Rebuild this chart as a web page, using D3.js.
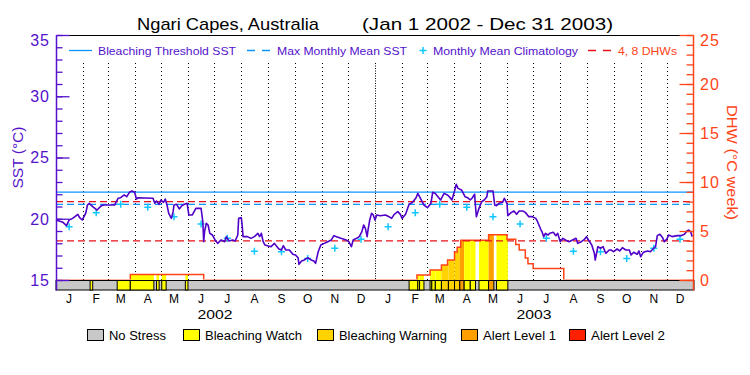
<!DOCTYPE html>
<html>
<head>
<meta charset="utf-8">
<script src="https://cdn.jsdelivr.net/npm/d3@7"></script>
<style>
  body { margin: 0; background: #fff; }
  svg { display: block; font-family: "Liberation Sans", Arial, sans-serif; }
</style>
</head>
<body>
<script>
// values
var months = ["J", "F", "M", "A", "M", "J", "J", "A", "S", "O", "N", "D"];
var years = ["2002", "2003"];
var sstTicks = [15, 20, 25, 30, 35];
var dhwTicks = [0, 5, 10, 15, 20, 25];

// monthly mean climatology (same for both years)
var climatology = [19.35, 20.5, 21.18, 20.93, 20.17, 19.57, 18.4, 17.35, 17.3, 16.75, 17.6, 18.32];
var mmmSST = 21.18;
var thresholdSST = 22.18;
var dhwRefs = [4, 8];

// SST series, days since Jan 1 2002
var sstDay = [0, 8, 12, 15, 19, 25, 27, 30, 34, 36, 38, 42, 47, 52, 55, 67, 71, 74, 78, 81, 84, 87, 90, 92, 94, 111, 113, 115, 118, 120,
  123, 125, 127, 129, 132, 134, 135, 138, 141, 144, 147, 150, 152, 156, 160, 166, 168, 169, 170, 172, 174, 176, 179, 182, 185, 189, 193, 195, 198, 202,
  205, 208, 209, 212, 213, 214, 219, 223, 227, 231, 233, 235, 237, 239, 242, 246, 250, 252, 255, 258, 260, 263, 267, 271, 274, 277, 278, 281, 284, 288,
  292, 295, 297, 300, 303, 307, 311, 315, 318, 321, 326, 332, 335, 338, 340, 344, 347, 350, 352, 354, 356, 357, 359, 361, 363,
  365, 367, 371, 377, 381, 384, 387, 391, 394, 396, 400, 404, 408, 412, 414, 417, 421, 425, 429, 431, 434, 437, 440, 444, 448, 451, 453, 456, 458, 460,
  464, 468, 471, 474, 476, 479, 480, 481, 484, 487, 490, 493, 494, 500, 502, 504, 507, 511, 513, 516, 517, 521, 524, 527, 530, 534, 537, 541, 545, 549,
  551, 555, 556, 558, 560, 563, 565, 569, 572, 574, 577, 580, 583, 587, 591, 595, 597, 601, 604, 607, 610, 613, 616, 617, 620, 623, 626, 629, 633, 635,
  638, 642, 645, 648, 652, 656, 658, 661, 665, 667, 669, 672, 677, 680, 683, 686, 688, 691, 694, 696, 699, 701, 705, 711, 715, 719, 722, 724, 726, 728];
var sstVal = [19.90, 19.71, 19.44, 19.90, 20.03, 20.36, 20.09, 19.90, 20.44, 21.12, 21.26, 20.99, 20.71, 21.07, 21.12, 21.12, 21.67, 21.72, 21.94, 21.80, 22.16, 22.27, 22.16, 21.61, 21.72, 21.67, 21.26, 21.45, 21.18, 21.53,
  21.34, 21.61, 21.12, 20.44, 20.03, 20.58, 21.12, 21.18, 20.80, 21.07, 21.18, 21.26, 20.31, 20.31, 20.85, 20.85, 19.76, 18.13, 18.95, 19.63, 19.49, 18.81, 18.67, 18.27, 17.99, 18.27, 18.13, 18.54, 18.18, 18.27,
  18.18, 18.67, 20.03, 20.09, 19.49, 18.54, 18.54, 18.40, 18.54, 18.81, 18.54, 18.81, 18.13, 17.86, 17.80, 17.72, 17.99, 17.80, 17.53, 17.45, 17.80, 17.45, 17.45, 17.10, 17.04, 16.82, 16.28, 16.55, 16.63, 16.82,
  16.63, 16.55, 16.36, 17.31, 17.86, 17.99, 18.13, 18.27, 18.62, 18.54, 18.40, 18.27, 18.13, 17.72, 18.27, 18.40, 18.54, 18.95, 19.49, 19.22, 18.54, 19.08, 19.90, 20.44, 20.31,
  19.90, 20.31, 20.25, 20.31, 20.17, 20.03, 20.36, 20.58, 20.36, 20.03, 20.36, 21.18, 21.34, 21.72, 22.07, 21.67, 21.12, 20.90, 21.26, 22.16, 22.07, 21.80, 21.53, 22.07, 21.94, 21.72, 21.53, 22.27, 22.81, 22.48,
  22.35, 21.80, 21.72, 21.53, 21.67, 22.00, 20.99, 20.17, 20.85, 21.39, 21.53, 21.80, 22.27, 22.27, 21.12, 21.07, 21.26, 21.34, 21.67, 21.26, 20.25, 20.52, 20.63, 20.36, 20.63, 20.63, 20.52, 20.17, 20.17, 20.03,
  19.76, 19.08, 18.95, 18.54, 18.81, 18.67, 18.81, 18.89, 18.62, 18.81, 18.13, 18.40, 18.27, 18.13, 18.27, 18.40, 17.99, 18.13, 18.27, 18.54, 18.18, 17.86, 17.18, 16.63, 17.72, 17.59, 17.72, 17.18, 17.45, 17.45,
  17.31, 17.53, 17.37, 17.64, 17.45, 17.45, 17.04, 17.26, 17.10, 17.37, 16.90, 17.26, 17.37, 17.31, 17.53, 17.72, 18.62, 18.73, 18.46, 18.13, 18.35, 18.67, 18.54, 18.62, 18.62, 18.73, 19.00, 19.08, 18.95, 18.54];

// degree heating weeks (step values), days since Jan 1 2002
var dhwDay = [0, 85, 169, 413, 428, 441, 448, 456, 459, 463, 495, 516, 526, 530, 537, 540, 546, 581];
var dhwVal = [0, 0.57, 0, 0.5, 1.02, 1.53, 2.04, 2.85, 3.35, 4.05, 4.63, 4.17, 3.62, 3.05, 2.25, 1.67, 1.17, 0];

// stress periods: 1 watch, 2 warning, 3 alert level 1, 4 alert level 2
var stressStart = [39, 70, 85, 115, 121, 148, 404, 414, 416, 428, 430, 434, 441, 449, 456, 462, 467, 474, 484, 495, 504];
var stressEnd   = [42, 85, 112, 118, 126, 151, 414, 416, 421, 430, 434, 441, 449, 456, 462, 467, 474, 480, 495, 501, 517];
var stressLevel = [1, 1, 1, 1, 1, 1, 1, 1, 1, 1, 1, 1, 2, 2, 2, 3, 1, 1, 1, 3, 1];
var stressNames = ["No Stress", "Bleaching Watch", "Bleaching Warning", "Alert Level 1", "Alert Level 2"];

var stressColors = ["#c8c8c8", "#ffff00", "#ffd200", "#ffa000", "#ff2000"];
var purple = "#5512cc";
var orange = "#ff4418";

var svg = d3.select("body").append("svg")
  .attr("width", 750)
  .attr("height", 375);

var t0 = new Date(Date.UTC(2002, 0, 1));
var t1 = new Date(Date.UTC(2004, 0, 1));
var day = d => d3.utcDay.offset(t0, d);

var x = d3.scaleUtc().domain([t0, t1]).range([56, 694]);
var ySST = d3.scaleLinear().domain([15, 35]).range([280, 35]);
var yDHW = d3.scaleLinear().domain([0, 25]).range([280, 35]);

// dotted month lines
var monthStarts = d3.utcMonth.range(d3.utcMonth.offset(t0, 1), t1);
svg.append("g").selectAll("line")
  .data(monthStarts)
  .enter()
  .append("line")
  .attr("x1", d => Math.round(x(d)) + 0.5)
  .attr("x2", d => Math.round(x(d)) + 0.5)
  .attr("y1", 63)
  .attr("y2", 280)
  .attr("stroke", "#000")
  .attr("stroke-width", 1)
  .attr("stroke-dasharray", d => d.getUTCMonth() === 0 ? "1,1.5" : "1,3");

// DHW area filled by stress level
var dhwPts = dhwDay.map((d, i) => ({t: day(d), v: dhwVal[i]}));
dhwPts.push({t: t1, v: 0});
var dhwArea = d3.area()
  .x(d => x(d.t))
  .y0(yDHW(0))
  .y1(d => yDHW(d.v))
  .curve(d3.curveStepAfter);
var defs = svg.append("defs");
defs.append("clipPath").attr("id", "dhwClip")
  .append("path").attr("d", dhwArea(dhwPts));
defs.append("clipPath").attr("id", "plotClip")
  .append("rect").attr("x", 0).attr("y", 0).attr("width", 750).attr("height", 279.5);

var stress = stressStart.map((s, i) => ({a: day(s), b: day(stressEnd[i]), lvl: stressLevel[i]}));

svg.append("g")
  .attr("clip-path", "url(#dhwClip)")
  .selectAll("rect")
  .data(stress)
  .enter()
  .append("rect")
  .attr("x", d => x(d.a))
  .attr("width", d => x(d.b) - x(d.a))
  .attr("y", 35)
  .attr("height", 245)
  .attr("fill", d => stressColors[d.lvl]);

var dhwLine = d3.line()
  .x(d => x(d.t))
  .y(d => yDHW(d.v))
  .curve(d3.curveStepAfter);
svg.append("path")
  .attr("clip-path", "url(#plotClip)")
  .attr("d", dhwLine(dhwPts))
  .attr("fill", "none")
  .attr("stroke", orange)
  .attr("stroke-width", 1.5);

// threshold / MMM / DHW reference lines
svg.append("line")
  .attr("x1", 56).attr("x2", 694)
  .attr("y1", ySST(thresholdSST)).attr("y2", ySST(thresholdSST))
  .attr("stroke", "#0a96ff").attr("stroke-width", 1.3);
svg.append("line")
  .attr("x1", 56).attr("x2", 694)
  .attr("y1", ySST(mmmSST)).attr("y2", ySST(mmmSST))
  .attr("stroke", "#0a96ff").attr("stroke-width", 1.3)
  .attr("stroke-dasharray", "7,4");
svg.append("g").selectAll("line")
  .data(dhwRefs)
  .enter()
  .append("line")
  .attr("x1", 56).attr("x2", 694)
  .attr("y1", d => yDHW(d)).attr("y2", d => yDHW(d))
  .attr("stroke", "#e8101a").attr("stroke-width", 1.3)
  .attr("stroke-dasharray", "7,4");

// climatology crosses
var climPts = [];
years.forEach(function(yr, yi) {
  climatology.forEach(function(v, m) {
    climPts.push({t: d3.utcDay.offset(d3.utcMonth.offset(t0, yi * 12 + m), 15), v: v});
  });
});
svg.append("g").selectAll("path")
  .data(climPts)
  .enter()
  .append("path")
  .attr("transform", d => `translate(${x(d.t)}, ${ySST(d.v)})`)
  .attr("d", "M-3.5,0H3.5M0,-3.5V3.5")
  .attr("stroke", "#10c8ff")
  .attr("stroke-width", 1.5);

// SST line
var sstPts = sstDay.map((d, i) => ({t: day(d), v: sstVal[i]}));
svg.append("path")
  .attr("d", d3.line().x(d => x(d.t)).y(d => ySST(d.v))(sstPts))
  .attr("fill", "none")
  .attr("stroke", "#5000c8")
  .attr("stroke-width", 1.6)
  .attr("stroke-linejoin", "round");

// stress bar
svg.append("rect")
  .attr("x", 56).attr("y", 280.5)
  .attr("width", 638).attr("height", 9.5)
  .attr("fill", stressColors[0])
  .attr("stroke", "#000");
svg.append("g").selectAll("rect")
  .data(stress)
  .enter()
  .append("rect")
  .attr("x", d => x(d.a))
  .attr("width", d => x(d.b) - x(d.a))
  .attr("y", 280.5)
  .attr("height", 9.5)
  .attr("fill", d => stressColors[d.lvl])
  .attr("stroke", "#000");

// top border
svg.append("line")
  .attr("x1", 56).attr("x2", 694).attr("y1", 35.5).attr("y2", 35.5)
  .attr("stroke", "#000");

// left SST axis
function styleAxis(g, color) {
  g.select(".domain").remove();
  g.selectAll("line").attr("stroke", color).attr("stroke-width", 1.3);
}
svg.append("g").attr("transform", "translate(56.5,0)")
  .call(d3.axisRight(ySST).tickValues(d3.range(15, 36)).tickSize(6).tickFormat(""))
  .call(g => styleAxis(g, purple));
svg.append("g").attr("transform", "translate(56.5,0)")
  .call(d3.axisRight(ySST).tickValues(sstTicks).tickSize(13).tickFormat(""))
  .call(g => styleAxis(g, purple));
svg.append("line")
  .attr("x1", 56.5).attr("x2", 56.5).attr("y1", 35).attr("y2", 290.5)
  .attr("stroke", purple).attr("stroke-width", 1.5);
svg.append("g").selectAll("text")
  .data(sstTicks)
  .enter()
  .append("text")
  .attr("x", 50)
  .attr("y", d => Math.max(ySST(d), 40.5))
  .attr("dy", "0.36em")
  .attr("text-anchor", "end")
  .style("font-size", "16px")
  .style("letter-spacing", "1px")
  .attr("fill", purple)
  .text(d => d);

// right DHW axis
svg.append("g").attr("transform", "translate(693.5,0)")
  .call(d3.axisLeft(yDHW).tickValues(d3.range(0, 26)).tickSize(7).tickFormat(""))
  .call(g => styleAxis(g, orange));
svg.append("g").attr("transform", "translate(693.5,0)")
  .call(d3.axisLeft(yDHW).tickValues(dhwTicks).tickSize(14).tickFormat(""))
  .call(g => styleAxis(g, orange));
svg.append("line")
  .attr("x1", 693.5).attr("x2", 693.5).attr("y1", 35).attr("y2", 290.5)
  .attr("stroke", orange).attr("stroke-width", 1.5);
svg.append("g").selectAll("text")
  .data(dhwTicks)
  .enter()
  .append("text")
  .attr("x", 700)
  .attr("y", d => Math.max(yDHW(d), 40.5))
  .attr("dy", "0.36em")
  .style("font-size", "16px")
  .style("letter-spacing", "1px")
  .attr("fill", orange)
  .text(d => d);

// axis titles
svg.append("text")
  .attr("transform", "translate(22.5,157.5) rotate(-90)")
  .attr("text-anchor", "middle")
  .attr("textLength", 62).attr("lengthAdjust", "spacingAndGlyphs")
  .style("font-size", "15px")
  .attr("fill", purple)
  .text("SST (°C)");
svg.append("text")
  .attr("transform", "translate(726.5,162.5) rotate(90)")
  .attr("text-anchor", "middle")
  .attr("textLength", 115).attr("lengthAdjust", "spacingAndGlyphs")
  .style("font-size", "15px")
  .attr("fill", orange)
  .text("DHW (°C week)");

// month and year labels
var monthMids = d3.utcMonth.range(t0, t1).map(d => d3.utcDay.offset(d, 15));
svg.append("g").selectAll("text")
  .data(monthMids)
  .enter()
  .append("text")
  .attr("x", d => x(d))
  .attr("y", 303)
  .attr("text-anchor", "middle")
  .style("font-size", "12px")
  .text(d => months[d.getUTCMonth()]);
svg.append("g").selectAll("text")
  .data(years)
  .enter()
  .append("text")
  .attr("x", (d, i) => x(d3.utcDay.offset(d3.utcYear.offset(t0, i), 182)))
  .attr("y", 319)
  .attr("text-anchor", "middle")
  .attr("textLength", 35).attr("lengthAdjust", "spacingAndGlyphs")
  .style("font-size", "13px")
  .text(d => d);

// title
svg.append("text")
  .attr("x", 137).attr("y", 29.5)
  .attr("textLength", 182).attr("lengthAdjust", "spacingAndGlyphs")
  .style("font-size", "17px")
  .text("Ngari Capes, Australia");
svg.append("text")
  .attr("x", 362).attr("y", 29.5)
  .attr("textLength", 251).attr("lengthAdjust", "spacingAndGlyphs")
  .style("font-size", "17px")
  .text("(Jan 1 2002 - Dec 31 2003)");

// top legend
var topLeg = svg.append("g").style("font-size", "11px");
topLeg.append("line").attr("x1", 69).attr("x2", 92).attr("y1", 50.5).attr("y2", 50.5)
  .attr("stroke", "#0a96ff").attr("stroke-width", 1.3);
topLeg.append("text").attr("x", 98).attr("y", 54.5).attr("fill", purple)
  .attr("textLength", 138).attr("lengthAdjust", "spacingAndGlyphs")
  .text("Bleaching Threshold SST");
topLeg.append("line").attr("x1", 247).attr("x2", 270).attr("y1", 50.5).attr("y2", 50.5)
  .attr("stroke", "#0a96ff").attr("stroke-width", 1.3).attr("stroke-dasharray", "8,7");
topLeg.append("text").attr("x", 277).attr("y", 54.5).attr("fill", purple)
  .attr("textLength", 130).attr("lengthAdjust", "spacingAndGlyphs")
  .text("Max Monthly Mean SST");
topLeg.append("path").attr("transform", "translate(423,50.5)")
  .attr("d", "M-3.5,0H3.5M0,-3.5V3.5")
  .attr("stroke", "#10c8ff").attr("stroke-width", 1.5);
topLeg.append("text").attr("x", 433).attr("y", 54.5).attr("fill", purple)
  .attr("textLength", 145).attr("lengthAdjust", "spacingAndGlyphs")
  .text("Monthly Mean Climatology");
topLeg.append("line").attr("x1", 588).attr("x2", 612).attr("y1", 50.5).attr("y2", 50.5)
  .attr("stroke", "#e8101a").attr("stroke-width", 1.3).attr("stroke-dasharray", "8,7");
topLeg.append("text").attr("x", 618).attr("y", 54.5).attr("fill", orange)
  .attr("textLength", 59).attr("lengthAdjust", "spacingAndGlyphs")
  .text("4, 8 DHWs");

// bottom legend
var legBoxX = [87, 183, 317, 461, 569];
var legTextW = [57, 97, 108, 73, 74];
var botLeg = svg.append("g").selectAll("g")
  .data(stressNames)
  .enter()
  .append("g")
  .attr("transform", (d, i) => `translate(${legBoxX[i]}, 0)`);
botLeg.append("rect")
  .attr("x", 0.5).attr("y", 329.5)
  .attr("width", 16).attr("height", 11)
  .attr("fill", (d, i) => stressColors[i])
  .attr("stroke", "#000");
botLeg.append("text")
  .attr("x", 22).attr("y", 340)
  .attr("textLength", (d, i) => legTextW[i]).attr("lengthAdjust", "spacingAndGlyphs")
  .style("font-size", "12.5px")
  .text(d => d);
</script>
</body>
</html>
